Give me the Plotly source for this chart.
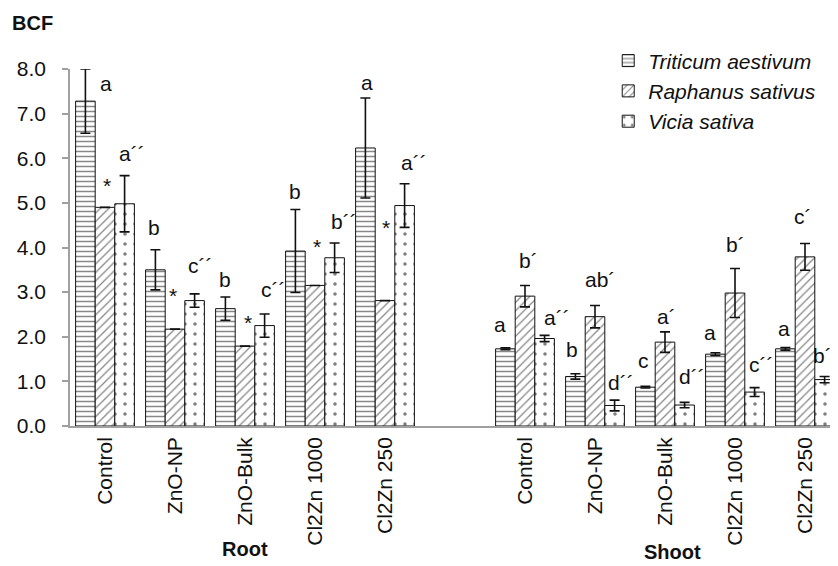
import plotly.graph_objects as go

# ---------------- data ----------------
categories = ["Control", "ZnO-NP", "ZnO-Bulk", "Cl2Zn 1000", "Cl2Zn 250"]
species = ["Triticum aestivum", "Raphanus sativus", "Vicia sativa"]

root_tri = [7.28, 3.50, 2.63, 3.92, 6.23]
root_tri_err = [0.72, 0.45, 0.26, 0.93, 1.12]
root_rap = [4.90, 2.17, 1.79, 3.15, 2.81]
root_rap_err = [0.0, 0.0, 0.0, 0.0, 0.0]
root_vic = [4.98, 2.81, 2.25, 3.77, 4.94]
root_vic_err = [0.63, 0.15, 0.26, 0.33, 0.49]

shoot_tri = [1.73, 1.11, 0.87, 1.61, 1.73]
shoot_tri_err = [0.02, 0.06, 0.02, 0.03, 0.03]
shoot_rap = [2.91, 2.45, 1.88, 2.98, 3.79]
shoot_rap_err = [0.24, 0.25, 0.23, 0.55, 0.30]
shoot_vic = [1.96, 0.46, 0.47, 0.76, 1.04]
shoot_vic_err = [0.07, 0.12, 0.06, 0.10, 0.07]

root_tri_lbl = ["a", "b", "b", "b", "a"]
root_rap_lbl = ["*", "*", "*", "*", "*"]
root_vic_lbl = ["a´´", "c´´", "c´´", "b´´", "a´´"]
shoot_tri_lbl = ["a", "b", "c", "a", "a"]
shoot_rap_lbl = ["b´", "ab´", "a´", "b´", "c´"]
shoot_vic_lbl = ["a´´", "d´´", "d´´", "c´´", "b´´"]

group_names = ["Root", "Shoot"]

# ---------------- layout / style ----------------
FONT = "Liberation Sans, Arial, sans-serif"
root_pos = [0, 1, 2, 3, 4]
shoot_pos = [6, 7, 8, 9, 10]
xpos = root_pos + shoot_pos
BARGAP = 0.16
bar_w = (1 - BARGAP) / 3
offsets = [-bar_w, 0.0, bar_w]

patterns = [
    dict(shape="-", size=5, solidity=0.3, fgcolor="#111"),
    dict(shape="/", size=6, solidity=0.22, fgcolor="#111"),
    dict(shape=".", size=10, solidity=0.1, fgcolor="#000"),
]

values = [root_tri + shoot_tri, root_rap + shoot_rap, root_vic + shoot_vic]
errors = [root_tri_err + shoot_tri_err, root_rap_err + shoot_rap_err,
          root_vic_err + shoot_vic_err]
labels = [root_tri_lbl + shoot_tri_lbl, root_rap_lbl + shoot_rap_lbl,
          root_vic_lbl + shoot_vic_lbl]

# pixel shifts (dx, dy) of each label relative to the top of its error bar
shifts = [
    [(21, -14), (-1, 22), (0, 18), (0, 18), (2, 16),
     (-5, 23), (-3, 24), (-2, 26), (-5, 20), (-1, 19)],
    [(2, 22), (-2, 34), (3, 24), (2, 39), (1, 73),
     (3, 25), (5, 26), (1, 15), (0, 24), (-2, 27)],
    [(7, 22), (6, 28), (9, 24), (9, 22), (9, 21),
     (12, 18), (6, 18), (7, 26), (7, 23), (1, 21)],
]

fig = go.Figure()
for i, name in enumerate(species):
    err = errors[i]
    fig.add_trace(go.Bar(
        x=xpos, y=values[i], name=name,
        marker=dict(color="white", line=dict(color="#111", width=1),
                    pattern=patterns[i]),
        error_y=dict(type="data", array=err, visible=any(e > 0 for e in err),
                     color="#111", thickness=1.6, width=5),
    ))

annotations = []
for i in range(3):
    for j, x in enumerate(xpos):
        dx, dy = shifts[i][j]
        annotations.append(dict(
            x=x + offsets[i], y=values[i][j] + errors[i][j],
            xref="x", yref="y", text=labels[i][j], showarrow=False,
            xanchor="center", yanchor="middle", xshift=dx, yshift=dy,
            font=dict(family=FONT, size=21, color="#111")))

annotations.append(dict(text="<b>BCF</b>", xref="paper", yref="paper",
                        x=-0.078, y=1.13, xanchor="left", yanchor="middle",
                        showarrow=False,
                        font=dict(family=FONT, size=20, color="#111")))
annotations.append(dict(text="<b>%s</b>" % group_names[0], xref="x", yref="paper",
                        x=2, y=-0.345, xanchor="center", yanchor="middle",
                        showarrow=False,
                        font=dict(family=FONT, size=20, color="#111")))
annotations.append(dict(text="<b>%s</b>" % group_names[1], xref="x", yref="paper",
                        x=8.1, y=-0.353, xanchor="center", yanchor="middle",
                        showarrow=False,
                        font=dict(family=FONT, size=20, color="#111")))

fig.update_layout(
    width=838, height=566,
    margin=dict(l=62, r=6, t=61, b=148),
    paper_bgcolor="white", plot_bgcolor="white",
    barmode="group", bargap=BARGAP, bargroupgap=0,
    font=dict(family=FONT, size=21, color="#111"),
    showlegend=True,
    legend=dict(x=0.699, y=1.08, xanchor="left", yanchor="top",
                font=dict(family=FONT, size=21, color="#111", style="italic"),
                bgcolor="rgba(0,0,0,0)", itemwidth=30, tracegroupgap=0),
    annotations=annotations,
    xaxis=dict(range=[-0.5, 10.5], tickvals=xpos, ticktext=categories + categories,
               tickangle=-90, showline=True, linecolor="#a0a0a0", linewidth=1.5,
               ticks="outside", ticklen=1, tickcolor="rgba(0,0,0,0)",
               showgrid=False, zeroline=False,
               tickfont=dict(family=FONT, size=21, color="#111")),
    yaxis=dict(range=[0, 8], tickvals=[0, 1, 2, 3, 4, 5, 6, 7, 8], tickformat=".1f",
               showline=True, linecolor="#a0a0a0", linewidth=1.5,
               ticks="outside", ticklen=6, tickcolor="#a0a0a0", tickwidth=1.5,
               ticklabelstandoff=12, showgrid=False, zeroline=False,
               tickfont=dict(family=FONT, size=21, color="#111")),
)

fig.write_html("out.html")
